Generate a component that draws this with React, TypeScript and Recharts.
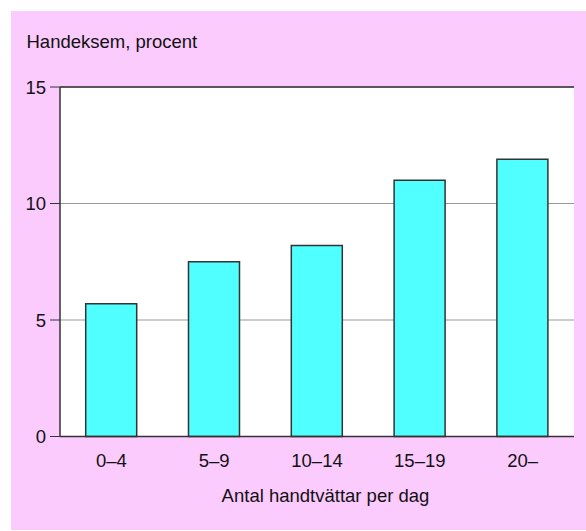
import { Bar, BarChart, CartesianGrid, Label, ReferenceLine, XAxis, YAxis } from "recharts";

const groups = ["0–4", "5–9", "10–14", "15–19", "20–"];
const eczemaPercent = [5.7, 7.5, 8.2, 11.0, 11.9];
const yTicks = [0, 5, 10, 15];

const data = groups.map((name, i) => ({ name, value: eczemaPercent[i] }));

const font = "'Liberation Sans', Arial, sans-serif";
const tickStyle = { fill: "#111", fontSize: 18.5, fontFamily: font };

// axis title sits a little right of the plot centre
const AxisTitle = ({ viewBox }: any) => {
    const { x, y, width, height } = viewBox;
    return (
        <text
            x={x + width / 2 + 8.5}
            y={y + height - 14.8}
            textAnchor="middle"
            fill="#111"
            fontSize={18.5}
            fontFamily={font}
        >
            Antal handtvättar per dag
        </text>
    );
};

export default function App() {
    return (
        <div
            style={{
                position: "absolute",
                left: 11,
                top: 11,
                width: 575,
                height: 519,
                background: "#FCCBFE",
                fontFamily: font,
            }}
        >
            <div
                style={{
                    position: "absolute",
                    left: 15.5,
                    top: 19.5,
                    fontSize: 18.5,
                    color: "#111",
                    whiteSpace: "nowrap",
                }}
            >
                Handeksem, procent
            </div>
            <BarChart
                width={575}
                height={519}
                data={data}
                margin={{ top: 76, right: 12, bottom: 13.5, left: 0 }}
                barCategoryGap="25%"
                style={{ position: "absolute", left: 0, top: 0 }}
            >
                <CartesianGrid horizontal vertical={false} stroke="#999" fill="#fff" />
                <XAxis
                    dataKey="name"
                    height={80}
                    tickLine={false}
                    tickSize={0}
                    tickMargin={17}
                    tick={tickStyle}
                    axisLine={{ stroke: "#333", strokeWidth: 1.5 }}
                >
                    <Label content={AxisTitle} />
                </XAxis>
                <YAxis
                    width={49}
                    domain={[0, 15]}
                    ticks={yTicks}
                    tickSize={10}
                    tickMargin={4}
                    tick={tickStyle}
                    tickLine={{ stroke: "#333" }}
                    axisLine={{ stroke: "#333", strokeWidth: 1.5 }}
                />
                <YAxis
                    yAxisId="r"
                    orientation="right"
                    width={0}
                    domain={[0, 15]}
                    tick={false}
                    tickLine={false}
                    axisLine={{ stroke: "#777", strokeWidth: 1.5 }}
                />
                <ReferenceLine y={15} stroke="#333" strokeWidth={1.5} />
                <Bar
                    dataKey="value"
                    fill="#50FFFF"
                    stroke="#333"
                    strokeWidth={1.5}
                    isAnimationActive={false}
                />
            </BarChart>
        </div>
    );
}
